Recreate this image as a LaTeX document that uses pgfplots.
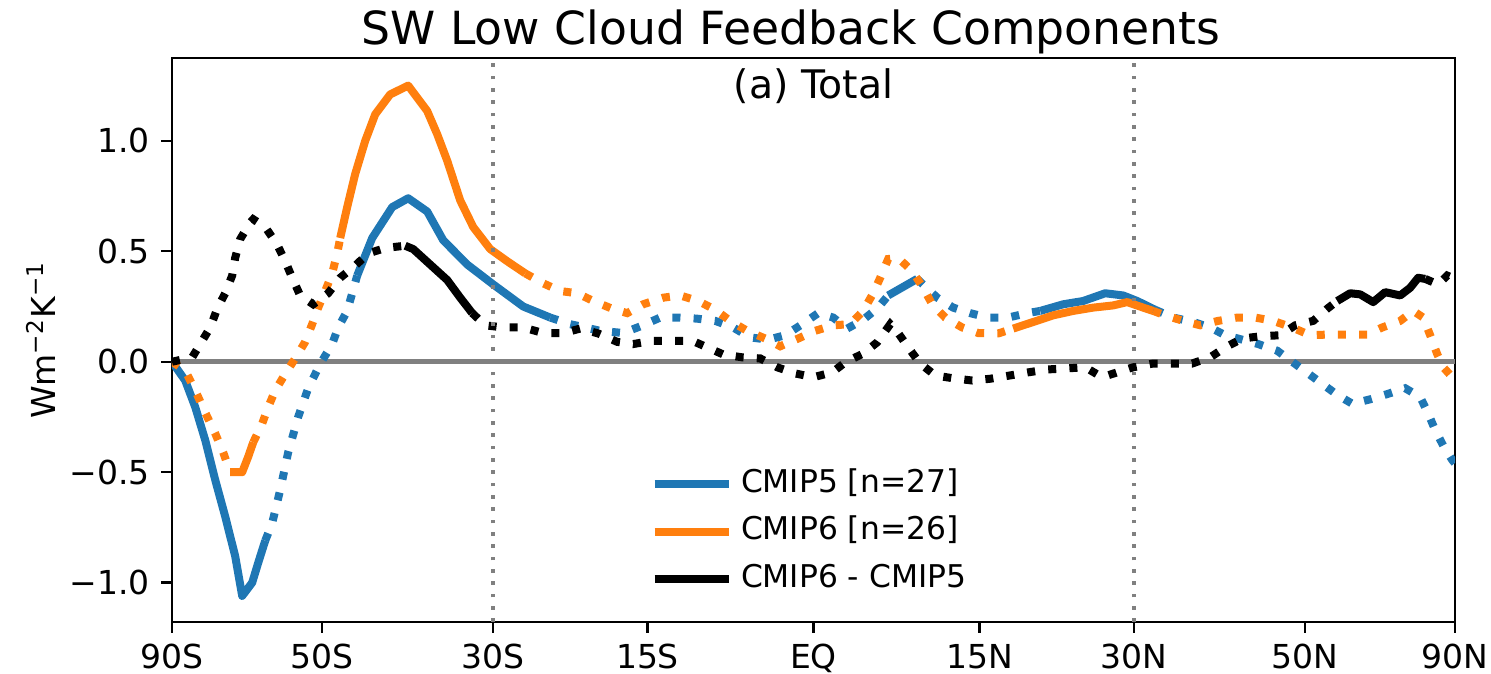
\documentclass[border=0pt]{standalone}
\usepackage{fontspec}
\setmainfont{DejaVu Sans}
\usepackage{pgfplots}
\pgfplotsset{compat=1.18}
\definecolor{cfive}{HTML}{1F77B4}
\definecolor{csix}{HTML}{FF7F0E}
\definecolor{zgray}{HTML}{808080}
\pgfplotsset{
  sline/.style={forget plot, line width=2.4pt, line join=round, line cap=butt},
  dline/.style={forget plot, line width=2.4pt, line cap=butt, dash pattern=on 2.4pt off 3.96pt},
}
\begin{document}
\begin{tikzpicture}
\useasboundingbox (-51.6pt,-15.6pt) rectangle (395.7pt,186.6pt);
\begin{axis}[
  at={(0,0)}, anchor=south west,
  scale only axis, width=384.9pt, height=169.2pt,
  xmin=-1, xmax=1, ymin=-1.178, ymax=1.375,
  xtick={-1,-0.766,-0.5,-0.2588,0,0.2588,0.5,0.766,1},
  xticklabels={90S,50S,30S,15S,EQ,15N,30N,50N,90N},
  ytick={-1,-0.5,0,0.5,1},
  yticklabels={−1.0,−0.5,0.0,0.5,1.0},
  tick label style={font=\fontsize{9.9}{12}\selectfont},
  tick align=outside, tick pos=left,
  major tick length=3.2pt,
  every tick/.style={black, line width=0.7pt},
  axis line style={line width=0.7pt},
  title={SW Low Cloud Feedback Components},
  every axis title shift=0pt,
  title style={at={(axis description cs:0.4825,1)}, anchor=base, yshift=3.9pt, inner sep=0pt, font=\fontsize{13.7}{16}\selectfont},
  ylabel={Wm\textsuperscript{−2}K\textsuperscript{−1}},
  every axis y label/.style={at={(axis description cs:-0.1021,0.5)}, rotate=90, anchor=center, font=\fontsize{9.9}{12}\selectfont},
  legend image code/.code={\draw[#1] (0pt,0pt) -- (22.2pt,0pt);},
  legend style={draw=none, fill=none, at={(axis description cs:0.3726,0.1597)}, anchor=west,
    inner sep=0pt, row sep=5.25pt, column sep=2.5pt,
    nodes={inner sep=0pt, text height=6.9pt, text depth=2.1pt},
    font=\fontsize{9.4}{11}\selectfont},
  legend cell align=left,
]
% zero line
\addplot[zgray, line width=1.4pt, forget plot] coordinates {(-1,0) (1,0)};

% CMIP5
\addplot[cfive, sline] coordinates {(-1,0) (-0.9794,-0.085) (-0.9638,-0.205) (-0.9482,-0.355) (-0.9326,-0.535) (-0.9171,-0.70) (-0.9015,-0.88) (-0.8906,-1.06) (-0.8750,-1.0) (-0.8656,-0.91) (-0.8547,-0.81)};
\addplot[cfive, dline] coordinates {(-0.8547,-0.81) (-0.8438,-0.73) (-0.8313,-0.58) (-0.8189,-0.41) (-0.8033,-0.25) (-0.7877,-0.12) (-0.7690,-0.01) (-0.7503,0.08) (-0.7409,0.155) (-0.7269,0.23) (-0.7191,0.31) (-0.7113,0.39)};
\addplot[cfive, sline] coordinates {(-0.7113,0.39) (-0.6879,0.56) (-0.6567,0.70) (-0.6318,0.74) (-0.6022,0.68) (-0.5772,0.55) (-0.5398,0.44) (-0.4993,0.35) (-0.4525,0.25) (-0.4104,0.20)};
\addplot[cfive, dline] coordinates {(-0.4104,0.20) (-0.3792,0.17) (-0.3325,0.14) (-0.2966,0.13) (-0.2701,0.16) (-0.2390,0.20) (-0.2078,0.20) (-0.1813,0.195) (-0.1532,0.185) (-0.1252,0.155) (-0.0987,0.11) (-0.0706,0.10) (-0.0441,0.12) (-0.0176,0.17) (0.0073,0.22) (0.0307,0.20) (0.0525,0.15) (0.0774,0.19) (0.1008,0.245) (0.1164,0.30)};
\addplot[cfive, sline] coordinates {(0.1164,0.30) (0.1616,0.375)};
\addplot[cfive, dline] coordinates {(0.1616,0.375) (0.1928,0.29) (0.2177,0.245) (0.2442,0.22) (0.2723,0.20) (0.3035,0.20) (0.3331,0.22) (0.3534,0.23)};
\addplot[cfive, sline] coordinates {(0.3534,0.23) (0.3892,0.26) (0.4204,0.275) (0.4547,0.31) (0.4828,0.30) (0.5046,0.275) (0.5327,0.235)};
\addplot[cfive, dline] coordinates {(0.5327,0.235) (0.5607,0.20) (0.5919,0.18) (0.6184,0.155) (0.6418,0.12) (0.6683,0.10) (0.6932,0.08) (0.7228,0.05) (0.7462,0.0) (0.7696,-0.05) (0.7930,-0.10) (0.8164,-0.15) (0.8398,-0.19) (0.8678,-0.17) (0.8959,-0.145) (0.9224,-0.12) (0.9458,-0.16) (0.9583,-0.235) (0.9692,-0.31) (0.9817,-0.38) (0.9957,-0.445) (1.0,-0.46)};

% CMIP6
\addplot[csix, dline] coordinates {(-1,0) (-0.9794,-0.04) (-0.9638,-0.13) (-0.9482,-0.23) (-0.9326,-0.325) (-0.9202,-0.41) (-0.9093,-0.50)};
\addplot[csix, sline] coordinates {(-0.9093,-0.50) (-0.8906,-0.50) (-0.8812,-0.43) (-0.8734,-0.365)};
\addplot[csix, dline] coordinates {(-0.8734,-0.365) (-0.8594,-0.28) (-0.8500,-0.205) (-0.8391,-0.13) (-0.8235,-0.055) (-0.8079,0.015) (-0.7924,0.09) (-0.7815,0.17) (-0.7721,0.245) (-0.7612,0.32) (-0.7503,0.40) (-0.7425,0.49) (-0.7378,0.56)};
\addplot[csix, sline] coordinates {(-0.7378,0.56) (-0.7269,0.70) (-0.7144,0.85) (-0.6988,1.0) (-0.6832,1.12) (-0.6599,1.21) (-0.6318,1.25) (-0.6022,1.135) (-0.5866,1.03) (-0.5710,0.91) (-0.5507,0.73) (-0.5305,0.61) (-0.5040,0.51) (-0.4775,0.455) (-0.4494,0.40)};
\addplot[csix, dline] coordinates {(-0.4494,0.40) (-0.4214,0.355) (-0.3949,0.32) (-0.3684,0.31) (-0.3434,0.275) (-0.3138,0.24) (-0.2904,0.22) (-0.2655,0.26) (-0.2343,0.29) (-0.2078,0.30) (-0.1797,0.275) (-0.1532,0.235) (-0.1298,0.185) (-0.1034,0.14) (-0.0753,0.105) (-0.0519,0.07) (-0.0239,0.105) (0.0027,0.14) (0.0307,0.165) (0.0572,0.17) (0.0774,0.23) (0.0931,0.31) (0.1040,0.38) (0.1164,0.465) (0.1320,0.47) (0.1539,0.41) (0.1710,0.335) (0.1850,0.26) (0.2053,0.20) (0.2318,0.155) (0.2567,0.13) (0.2879,0.128) (0.3113,0.15)};
\addplot[csix, sline] coordinates {(0.3113,0.15) (0.3425,0.18) (0.3737,0.21) (0.4048,0.23) (0.4360,0.245) (0.4672,0.255) (0.4890,0.27) (0.5139,0.245) (0.5295,0.23)};
\addplot[csix, dline] coordinates {(0.5295,0.23) (0.5482,0.21) (0.5763,0.185) (0.6028,0.165) (0.6309,0.185) (0.6605,0.20) (0.6885,0.20) (0.7166,0.185) (0.7462,0.155) (0.7743,0.12) (0.8023,0.123) (0.8335,0.123) (0.8631,0.123) (0.8865,0.155) (0.9146,0.185) (0.9349,0.23) (0.9504,0.20) (0.9613,0.12) (0.9722,0.035) (0.9817,-0.025) (0.9957,-0.07) (1.0,-0.08)};

% CMIP6 - CMIP5
\addplot[black, dline] coordinates {(-1,0) (-0.9685,0.02) (-0.9529,0.095) (-0.9404,0.155) (-0.9295,0.24) (-0.9171,0.31) (-0.9062,0.39) (-0.9015,0.47) (-0.8937,0.555) (-0.8781,0.63) (-0.8734,0.645) (-0.8547,0.61) (-0.8360,0.53) (-0.8235,0.455) (-0.8126,0.38) (-0.8002,0.30) (-0.7799,0.26) (-0.7565,0.31) (-0.7378,0.38) (-0.7144,0.435) (-0.6942,0.49) (-0.6677,0.515) (-0.6365,0.525)};
\addplot[black, sline] coordinates {(-0.6365,0.525) (-0.6240,0.51) (-0.5975,0.44) (-0.5710,0.37) (-0.5507,0.29) (-0.5320,0.22)};
\addplot[black, dline] coordinates {(-0.5320,0.22) (-0.5118,0.165) (-0.4837,0.155) (-0.4525,0.155) (-0.4214,0.13) (-0.3902,0.13) (-0.3637,0.15) (-0.3356,0.128) (-0.3060,0.09) (-0.2811,0.08) (-0.2514,0.095) (-0.2203,0.095) (-0.1891,0.095) (-0.1657,0.065) (-0.1408,0.033) (-0.1111,0.02) (-0.0831,0.015) (-0.0566,-0.025) (-0.0285,-0.053) (0,-0.07) (0.0292,-0.048) (0.0494,-0.003) (0.0774,0.037) (0.0993,0.088) (0.1196,0.17) (0.1320,0.13) (0.1476,0.065) (0.1663,-0.008) (0.1897,-0.062) (0.2177,-0.075) (0.2474,-0.085) (0.2754,-0.077) (0.3066,-0.062) (0.3347,-0.048) (0.3643,-0.035) (0.3955,-0.03) (0.4235,-0.025) (0.4500,-0.07) (0.4734,-0.048) (0.4984,-0.025) (0.5295,-0.008) (0.5592,-0.008) (0.5903,-0.008) (0.6184,0.02) (0.6418,0.065) (0.6683,0.105) (0.6963,0.115) (0.7275,0.12) (0.7509,0.165) (0.7790,0.185) (0.8008,0.24) (0.8164,0.275)};
\addplot[black, sline] coordinates {(0.8164,0.275) (0.8366,0.31) (0.8522,0.305) (0.8725,0.27) (0.8912,0.315) (0.9146,0.30) (0.9302,0.335) (0.9426,0.38) (0.9535,0.375)};
\addplot[black, dline] coordinates {(0.9535,0.375) (0.9738,0.35) (0.9878,0.39) (1.0,0.375)};

% 30S / 30N reference lines
\addplot[zgray, line width=1.1pt, line cap=butt, dash pattern=on 1.1pt off 2.6pt, forget plot] coordinates {(-0.5,-1.178) (-0.5,1.375)};
\addplot[zgray, line width=1.1pt, line cap=butt, dash pattern=on 1.1pt off 2.6pt, forget plot] coordinates {(0.5,-1.178) (0.5,1.375)};

\addlegendimage{cfive, line width=2.4pt}
\addlegendentry{CMIP5 [n=27]}
\addlegendimage{csix, line width=2.4pt}
\addlegendentry{CMIP6 [n=26]}
\addlegendimage{black, line width=2.4pt}
\addlegendentry{CMIP6 - CMIP5}

\node[anchor=base, yshift=-12.3pt, font=\fontsize{11.8}{14}\selectfont] at (rel axis cs:0.5,1) {(a) Total};
\end{axis}
\end{tikzpicture}
\end{document}
